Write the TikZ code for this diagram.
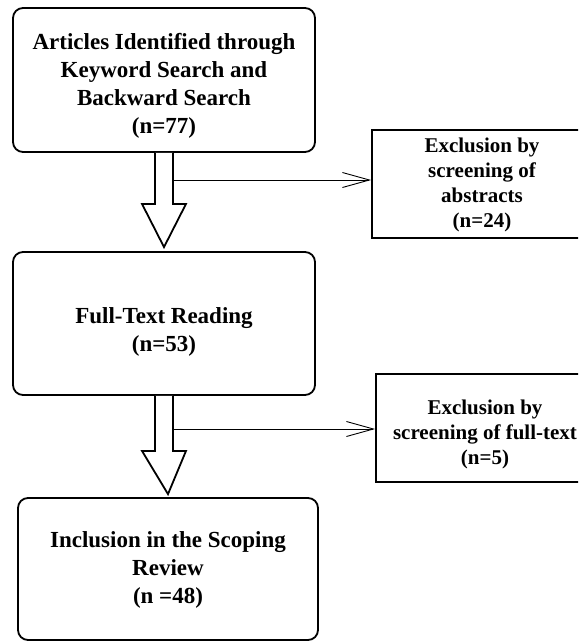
\documentclass[tikz,border=0pt]{standalone}
\usepackage{fontspec}
\setmainfont{Liberation Serif}
\usetikzlibrary{arrows.meta,calc}
\begin{document}
\begin{tikzpicture}[x=1pt,y=1pt,
  mainbox/.style={draw,line width=1.8pt,rounded corners=10pt,inner sep=0pt},
  sidebox/.style={draw,line width=1.8pt,inner sep=0pt},
  maintext/.style={align=center,font=\fontsize{23}{28}\selectfont\bfseries,inner sep=0pt},
  sidetext/.style={align=center,font=\fontsize{21}{25}\selectfont\bfseries,inner sep=0pt},
  hollow/.style={draw,line width=1.8pt,fill=white,line join=miter},
  thin/.style={line width=0.9pt,-{Straight Barb[length=27pt,width=15pt,line width=0.9pt]}}]
\useasboundingbox (0,0) rectangle (578,-642);
\clip (0,0) rectangle (578,-642);

\node[mainbox,minimum width=302pt,minimum height=144pt] (b1) at (164,-80) {};
\node[maintext] (t1) at ($(b1.center)+(0,-6)$)
  {Articles Identified through\\Keyword Search and\\Backward Search\\(n=77)};
\node[mainbox,minimum width=302pt,minimum height=143pt] (b2) at (164,-323.5) {};
\node[maintext] (t2) at ($(b2.center)+(0,-8)$) {Full-Text Reading\\(n=53)};
\node[mainbox,minimum width=300pt,minimum height=142pt] (b3) at (168,-569) {};
\node[maintext] (t3) at ($(b3.center)+(0,-1)$) {Inclusion in the Scoping\\Review\\(n =48)};

\node[sidebox,minimum width=220pt,minimum height=108pt] (r1) at (482,-184) {};
\node[sidetext] (u1) at ($(r1.center)+(0,-1)$)
  {Exclusion by\\screening of\\abstracts\\(n=24)};
\node[sidebox,minimum width=218pt,minimum height=108pt] (r2) at (485,-428) {};
\node[sidetext] (u2) at ($(r2.center)+(0,-6)$)
  {Exclusion by\\screening of full-text\\(n=5)};

% hollow arrow 1
\draw[hollow] ($(b1.south)+(-9,0)$) -- ++(0,-51) -- ++(-13,0)
  -- ($(b2.north)+(0,4)$) -- ($(b1.south)+(22,-51)$) -- ++(-13,0) -- ($(b1.south)+(9,0)$);
% hollow arrow 2
\draw[hollow] ($(b2.south)+(-9,0)$) -- ++(0,-55) -- ++(-13,0)
  -- ($(b3.north)+(0,3)$) -- ($(b2.south)+(22,-55)$) -- ++(-13,0) -- ($(b2.south)+(9,0)$);

\coordinate (s1) at (174,-180);
\coordinate (s2) at (174,-429);
\draw[thin] (s1) -- (s1 -| r1.west);
\draw[thin] (s2) -- (s2 -| r2.west);
\end{tikzpicture}
\end{document}
